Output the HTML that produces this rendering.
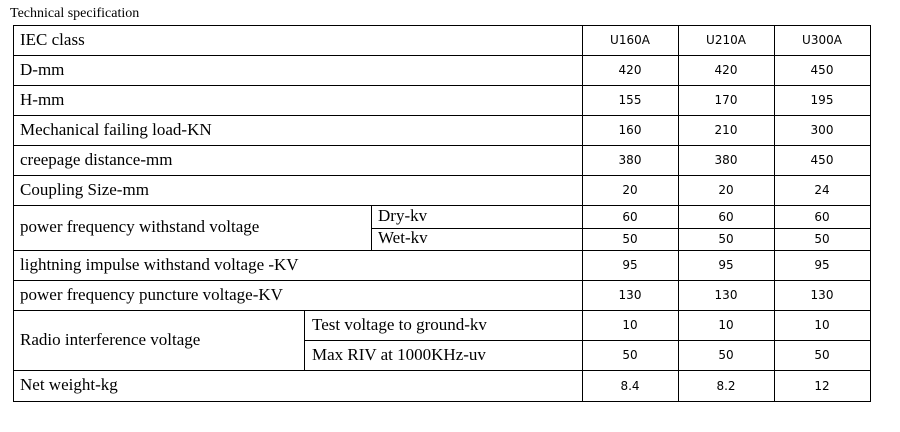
<!DOCTYPE html>
<html><head><meta charset="utf-8"><style>
body{margin:0;width:900px;height:432px;background:#fff;position:relative;overflow:hidden;font-family:"Liberation Serif",serif;color:#000}
.h{position:absolute;height:1px;background:#000}
.v{position:absolute;width:1px;background:#000}
.t{position:absolute;font-size:17px;line-height:16px;white-space:nowrap}
.n{position:absolute;font-family:"DejaVu Sans","Liberation Sans",sans-serif;font-size:12px;line-height:12px;width:96px;text-align:center}
</style></head><body>
<div class="t" style="left:10px;top:7px;font-size:14px;line-height:14px">Technical specification</div>
<div class="h" style="left:13px;width:858px;top:25px"></div>
<div class="h" style="left:13px;width:858px;top:55px"></div>
<div class="h" style="left:13px;width:858px;top:85px"></div>
<div class="h" style="left:13px;width:858px;top:115px"></div>
<div class="h" style="left:13px;width:858px;top:145px"></div>
<div class="h" style="left:13px;width:858px;top:175px"></div>
<div class="h" style="left:13px;width:858px;top:205px"></div>
<div class="h" style="left:371px;width:500px;top:228px"></div>
<div class="h" style="left:13px;width:858px;top:250px"></div>
<div class="h" style="left:13px;width:858px;top:280px"></div>
<div class="h" style="left:13px;width:858px;top:310px"></div>
<div class="h" style="left:304px;width:567px;top:340px"></div>
<div class="h" style="left:13px;width:858px;top:370px"></div>
<div class="h" style="left:13px;width:858px;top:401px"></div>
<div class="v" style="left:13px;top:25px;height:377px"></div>
<div class="v" style="left:582px;top:25px;height:377px"></div>
<div class="v" style="left:678px;top:25px;height:377px"></div>
<div class="v" style="left:774px;top:25px;height:377px"></div>
<div class="v" style="left:870px;top:25px;height:377px"></div>
<div class="v" style="left:371px;top:205px;height:45px"></div>
<div class="v" style="left:304px;top:310px;height:60px"></div>
<div class="t" style="left:20px;top:32px">IEC class</div>
<div class="t" style="left:20px;top:62px">D-mm</div>
<div class="t" style="left:20px;top:92px">H-mm</div>
<div class="t" style="left:20px;top:122px">Mechanical failing load-KN</div>
<div class="t" style="left:20px;top:152px">creepage distance-mm</div>
<div class="t" style="left:20px;top:182px">Coupling Size-mm</div>
<div class="t" style="left:20px;top:219px">power frequency withstand voltage</div>
<div class="t" style="left:378px;top:208px">Dry-kv</div>
<div class="t" style="left:378px;top:230px">Wet-kv</div>
<div class="t" style="left:20px;top:257px">lightning impulse withstand voltage -KV</div>
<div class="t" style="left:20px;top:287px">power frequency puncture voltage-KV</div>
<div class="t" style="left:20px;top:332px">Radio interference voltage</div>
<div class="t" style="left:312px;top:317px">Test voltage to ground-kv</div>
<div class="t" style="left:312px;top:347px">Max RIV at 1000KHz-uv</div>
<div class="t" style="left:20px;top:377px">Net weight-kg</div>
<div class="n" style="left:582px;top:34px">U160A</div><div class="n" style="left:678px;top:34px">U210A</div><div class="n" style="left:774px;top:34px">U300A</div>
<div class="n" style="left:582px;top:64px">420</div><div class="n" style="left:678px;top:64px">420</div><div class="n" style="left:774px;top:64px">450</div>
<div class="n" style="left:582px;top:94px">155</div><div class="n" style="left:678px;top:94px">170</div><div class="n" style="left:774px;top:94px">195</div>
<div class="n" style="left:582px;top:124px">160</div><div class="n" style="left:678px;top:124px">210</div><div class="n" style="left:774px;top:124px">300</div>
<div class="n" style="left:582px;top:154px">380</div><div class="n" style="left:678px;top:154px">380</div><div class="n" style="left:774px;top:154px">450</div>
<div class="n" style="left:582px;top:184px">20</div><div class="n" style="left:678px;top:184px">20</div><div class="n" style="left:774px;top:184px">24</div>
<div class="n" style="left:582px;top:211px">60</div><div class="n" style="left:678px;top:211px">60</div><div class="n" style="left:774px;top:211px">60</div>
<div class="n" style="left:582px;top:233px">50</div><div class="n" style="left:678px;top:233px">50</div><div class="n" style="left:774px;top:233px">50</div>
<div class="n" style="left:582px;top:259px">95</div><div class="n" style="left:678px;top:259px">95</div><div class="n" style="left:774px;top:259px">95</div>
<div class="n" style="left:582px;top:289px">130</div><div class="n" style="left:678px;top:289px">130</div><div class="n" style="left:774px;top:289px">130</div>
<div class="n" style="left:582px;top:319px">10</div><div class="n" style="left:678px;top:319px">10</div><div class="n" style="left:774px;top:319px">10</div>
<div class="n" style="left:582px;top:349px">50</div><div class="n" style="left:678px;top:349px">50</div><div class="n" style="left:774px;top:349px">50</div>
<div class="n" style="left:582px;top:380px">8.4</div><div class="n" style="left:678px;top:380px">8.2</div><div class="n" style="left:774px;top:380px">12</div>
</body></html>
